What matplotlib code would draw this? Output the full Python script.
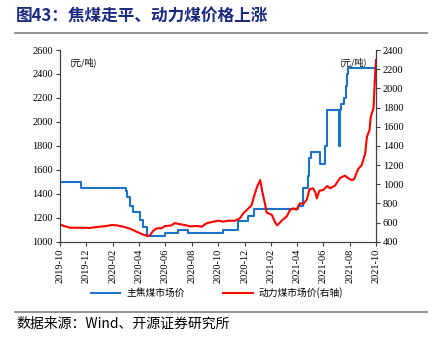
import pandas as pd
import numpy as np
import matplotlib.pyplot as plt
import matplotlib.dates as mdates

plt.rcParams['font.family'] = ['Liberation Serif', 'Noto Sans CJK SC']

## coking coal price (left axis), step changes
coke_dates = ['2019-10-01', '2019-11-18', '2020-03-02', '2020-03-05', '2020-03-11', '2020-03-17',
              '2020-03-25', '2020-04-03', '2020-04-09', '2020-04-20', '2020-05-31', '2020-07-01',
              '2020-07-24', '2020-10-11', '2020-11-15', '2020-12-10', '2020-12-23', '2021-04-04',
              '2021-04-15', '2021-04-27', '2021-04-30', '2021-05-03', '2021-05-25', '2021-06-05',
              '2021-06-10', '2021-07-08', '2021-07-09', '2021-07-13', '2021-07-20', '2021-07-23',
              '2021-07-26', '2021-07-29', '2021-10-01']
coke_vals = [1500, 1450, 1420, 1375, 1300, 1250, 1250, 1180, 1125, 1050, 1070, 1100,
             1070, 1100, 1170, 1215, 1270, 1300,
             1450, 1550, 1700, 1750, 1650, 1800,
             2100, 1800, 2100, 2150, 2200, 2300,
             2400, 2450, 2450]

## thermal coal price (right axis)
steam_dates = ['2019-10-01', '2019-10-08', '2019-10-24', '2019-11-24', '2019-12-09', '2019-12-25',
               '2020-01-17', '2020-01-29', '2020-02-09', '2020-02-24', '2020-03-11', '2020-03-26',
               '2020-04-11', '2020-04-22', '2020-04-26', '2020-05-04', '2020-05-12', '2020-05-23',
               '2020-05-31', '2020-06-04', '2020-06-15', '2020-06-23', '2020-07-01', '2020-07-16',
               '2020-07-28', '2020-08-12', '2020-08-24', '2020-09-04', '2020-09-20', '2020-10-01',
               '2020-10-13', '2020-10-24', '2020-11-09', '2020-11-20', '2020-11-28', '2020-12-06',
               '2020-12-17', '2020-12-25', '2020-12-30', '2021-01-06', '2021-01-11', '2021-01-17',
               '2021-01-21', '2021-02-02', '2021-02-09', '2021-02-14', '2021-02-21', '2021-02-28',
               '2021-03-08', '2021-03-16', '2021-03-24', '2021-03-31', '2021-04-08', '2021-04-16',
               '2021-04-24', '2021-04-30', '2021-05-08', '2021-05-13', '2021-05-17', '2021-05-23',
               '2021-06-01', '2021-06-10', '2021-06-17', '2021-06-28', '2021-07-10', '2021-07-21',
               '2021-07-29', '2021-08-06', '2021-08-11', '2021-08-21', '2021-08-29', '2021-09-06',
               '2021-09-10', '2021-09-16', '2021-09-19', '2021-09-25', '2021-09-26', '2021-09-29',
               '2021-10-01']
steam_vals = [580, 567, 546, 546, 543, 553,
              564, 574, 571, 557, 536, 504,
              473, 459, 467, 515, 540, 540,
              564, 564, 571, 595, 585, 574,
              560, 564, 557, 592, 609, 619,
              609, 619, 619, 644, 696, 730,
              780, 905, 974, 1043, 922, 800,
              705, 680, 609, 570, 600, 633,
              661, 730, 748, 735, 800, 795,
              840, 946, 957, 922, 852, 932,
              939, 981, 957, 985, 1065, 1090,
              1061, 1043, 1050, 1160, 1200, 1322,
              1495, 1565, 1704, 1791, 1860, 2156,
              2295]

coke_dates = pd.to_datetime(coke_dates)
steam_dates = pd.to_datetime(steam_dates)

fig = plt.figure(figsize=(4.34, 3.37), dpi=100)
ax = fig.add_axes([0.1382, 0.2828, 0.7282, 0.5688])
ax2 = ax.twinx()

blue = '#1a73c8'
red = '#ff0000'

l1, = ax.plot(coke_dates, coke_vals, color=blue, lw=1.5, drawstyle='steps-post', label='主焦煤市场价')
l2, = ax2.plot(steam_dates, steam_vals, color=red, lw=1.5, label='动力煤市场价(右轴)')

ax.set_xlim(pd.Timestamp('2019-10-01'), pd.Timestamp('2021-10-01'))
ax.set_ylim(1000, 2600)
ax.set_yticks(np.arange(1000, 2601, 200))
ax2.set_ylim(400, 2400)
ax2.set_yticks(np.arange(400, 2401, 200))

ax.xaxis.set_major_locator(mdates.MonthLocator(bymonth=[2, 4, 6, 8, 10, 12]))
ax.xaxis.set_major_formatter(mdates.DateFormatter('%Y-%m'))
for lab in ax.get_xticklabels():
    lab.set_rotation(90)

for a in (ax, ax2):
    a.spines['top'].set_visible(False)
    for s in a.spines.values():
        s.set_color('#404040')
        s.set_linewidth(0.8)
    a.tick_params(direction='out', length=3, width=0.8, color='#404040', labelsize=7.5, pad=2)

ax.text(0.03, 0.96, '(元/吨)', transform=ax.transAxes, fontsize=6.5, va='top', ha='left',
        family=['Noto Sans CJK SC'])
ax2.text(0.97, 0.96, '(元/吨)', transform=ax.transAxes, fontsize=6.5, va='top', ha='right',
         family=['Noto Sans CJK SC'])

fig.legend([l1, l2], ['主焦煤市场价', '动力煤市场价(右轴)'], loc='center', ncol=2,
           bbox_to_anchor=(0.5, 1 - 293 / 337), frameon=False,
           handlelength=3.0, columnspacing=4.0, handletextpad=0.6,
           prop={'family': ['Noto Sans CJK SC'], 'size': 7})

fig.text(0.037, 1 - 17 / 337, '图43：焦煤走平、动力煤价格上涨', fontsize=12, fontweight='bold',
         color='#1b2a80', va='center', ha='left', family=['Noto Sans CJK SC'])
fig.add_artist(plt.Line2D([0.035, 0.985], [1 - 33.3 / 337] * 2, color='#808080', lw=1.2,
                          transform=fig.transFigure))
fig.add_artist(plt.Line2D([0.035, 0.985], [1 - 311.5 / 337] * 2, color='#808080', lw=1.2,
                          transform=fig.transFigure))
fig.text(0.037, 1 - 323.5 / 337, '数据来源：Wind、开源证券研究所', fontsize=10, color='#000000',
         va='center', ha='left', family=['Noto Sans CJK SC', 'Liberation Serif'])

fig.savefig('out.png', dpi=100)
